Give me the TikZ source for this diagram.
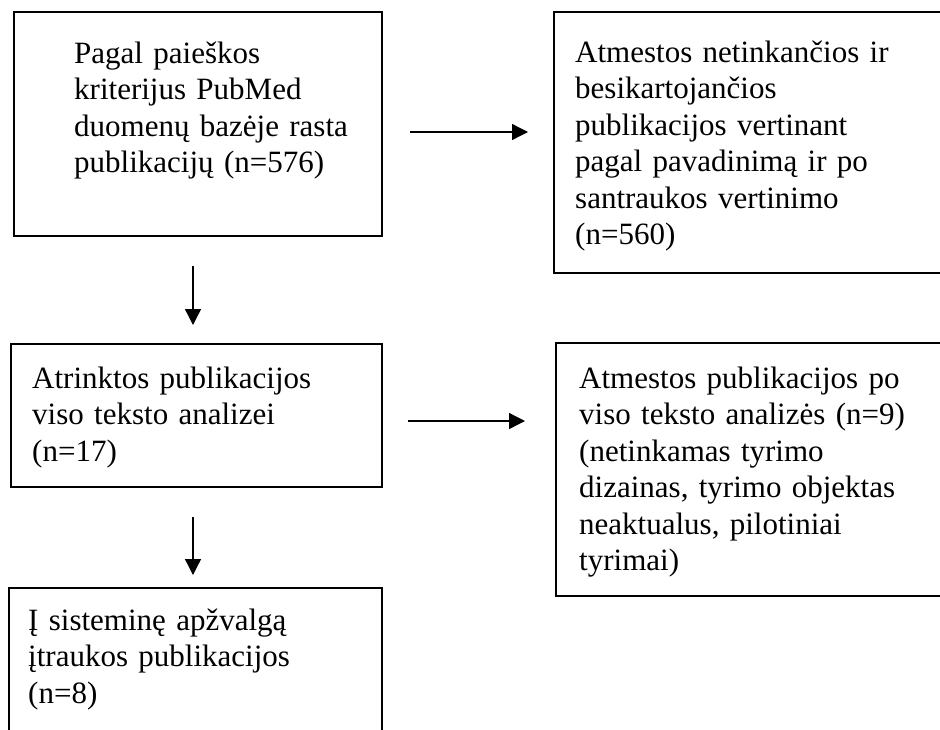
\documentclass[tikz,border=0pt]{standalone}
\usepackage{fontspec}
\setmainfont{Liberation Serif}
\usetikzlibrary{arrows.meta}
\begin{document}
\begin{tikzpicture}[x=1pt,y=-1pt,
  box/.style={draw, line width=2.6pt, inner sep=0pt, outer sep=0pt, anchor=north west},
  txt/.style={anchor=base west, inner sep=0pt, text width=400pt, align=left, font=\fontsize{31}{36.5}\selectfont},
  arr/.style={line width=1.3pt, -{Triangle[length=16pt,width=16pt]}}]
\useasboundingbox (0,0) rectangle (940,729);
\fill[white] (0,0) rectangle (940,729);
\clip (0,0) rectangle (940,729);
% boxes
\node[box, minimum width=368pt, minimum height=224pt] (b1) at (14,12) {};
\node[box, minimum width=420pt, minimum height=261pt] (b2) at (554,12) {};
\node[box, minimum width=371pt, minimum height=143pt] (b3) at (11,344) {};
\node[box, minimum width=420pt, minimum height=253pt] (b4) at (556,343) {};
\node[box, minimum width=373pt, minimum height=200pt] (b5) at (9,588) {};
% texts
\node[txt] (t1) at (74,63) {Pagal paieškos\\kriterijus PubMed\\duomenų bazėje rasta\\publikacijų (n=576)};
\node[txt] (t2) at (575,62) {Atmestos netinkančios ir\\besikartojančios\\publikacijos vertinant\\pagal pavadinimą ir po\\santraukos vertinimo\\(n=560)};
\node[txt] (t3) at (32,388) {Atrinktos publikacijos\\viso teksto analizei\\(n=17)};
\node[txt] (t4) at (579,388) {Atmestos publikacijos po\\viso teksto analizės (n=9)\\(netinkamas tyrimo\\dizainas, tyrimo objektas\\neaktualus, pilotiniai\\tyrimai)};
\node[txt] (t5) at (28,630) {Į sisteminę apžvalgą\\įtraukos publikacijos\\(n=8)};
% connectors
\coordinate (r1) at (0,132);
\coordinate (r2) at (0,421);
\coordinate (c1) at (193,0);
\draw[arr, shorten <=28pt, shorten >=26pt] (b1.east |- r1) -- (b2.west |- r1);
\draw[arr, shorten <=26pt, shorten >=31pt] (b3.east |- r2) -- (b4.west |- r2);
\draw[arr, shorten <=30pt, shorten >=19pt] (b1.south -| c1) -- (b3.north -| c1);
\draw[arr, shorten <=30pt, shorten >=13pt] (b3.south -| c1) -- (b5.north -| c1);
\end{tikzpicture}
\end{document}
